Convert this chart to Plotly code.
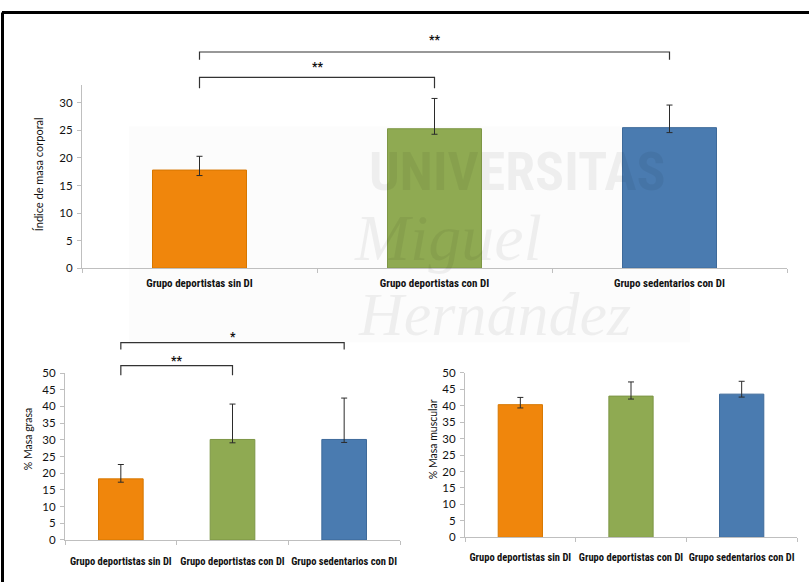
import plotly.graph_objects as go

# ---- data ---------------------------------------------------------------
groups = ["Grupo deportistas sin DI", "Grupo deportistas con DI", "Grupo sedentarios con DI"]
colors = ["#F0860C", "#8FAA52", "#4A7BB0"]
edge_colors = ["#D77700", "#7D9645", "#3E6A9A"]

imc_mean = [17.8, 25.3, 25.5]
imc_err_hi = [20.3, 30.8, 29.6]
imc_err_lo = [16.8, 24.3, 24.6]

grasa_mean = [18.3, 30.1, 30.1]
grasa_err_hi = [22.6, 40.7, 42.5]
grasa_err_lo = [17.3, 29.1, 29.2]

musc_mean = [40.3, 42.9, 43.5]
musc_err_hi = [42.5, 47.2, 47.4]
musc_err_lo = [39.3, 42.0, 42.6]

W, H = 809, 588


def px(x):
    return x / W


def py(y):
    return 1 - y / H


FONT = "Liberation Sans Narrow, Arial Narrow, Roboto Condensed, Roboto, sans-serif"
NUM_FONT = "Lato, Open Sans, sans-serif"
xs = list(range(len(groups)))
tick_labels = [f"<b>{g}</b>" for g in groups]

fig = go.Figure()


def add_bars(means, hi, lo, xa, ya):
    fig.add_trace(go.Bar(
        x=xs, y=means, width=0.40,
        marker=dict(color=colors, line=dict(color=edge_colors, width=1)),
        error_y=dict(type="data", symmetric=False,
                     array=[h - m for h, m in zip(hi, means)],
                     arrayminus=[m - l for m, l in zip(means, lo)],
                     color="#2b2b2b", thickness=1, width=3),
        xaxis=xa, yaxis=ya, showlegend=False, hoverinfo="skip"))


add_bars(imc_mean, imc_err_hi, imc_err_lo, "x", "y")
add_bars(grasa_mean, grasa_err_hi, grasa_err_lo, "x2", "y2")
add_bars(musc_mean, musc_err_hi, musc_err_lo, "x3", "y3")


def xaxis_cfg(x0, x1, anchor, size, standoff):
    return dict(domain=[px(x0), px(x1)], anchor=anchor, range=[-0.5, 2.5],
                tickvals=xs, ticktext=tick_labels, ticks="", showline=True,
                linecolor="#BFBFBF", linewidth=1, showgrid=False, zeroline=False,
                ticklabelstandoff=standoff,
                tickfont=dict(family=FONT, size=size, color="#111111"),
                minor=dict(tickvals=[-0.5, 0.5, 1.5, 2.5], ticks="outside",
                           ticklen=4, tickcolor="#BFBFBF", showgrid=False),
                fixedrange=True)


def yaxis_cfg(y0, y1, top, anchor):
    return dict(domain=[py(y0), py(y1)], anchor=anchor, range=[0, top], dtick=5,
                ticks="outside", ticklen=4, tickcolor="#BFBFBF", showline=True,
                linecolor="#BFBFBF", linewidth=1, showgrid=False, zeroline=False,
                ticklabelstandoff=2,
                tickfont=dict(family=NUM_FONT, size=11.5, color="#111111"),
                fixedrange=True)


fig.update_layout(
    width=W, height=H, margin=dict(l=0, r=0, t=0, b=0),
    paper_bgcolor="white", plot_bgcolor="rgba(0,0,0,0)",
    xaxis=xaxis_cfg(82, 787, "y", 11, 5),
    yaxis=yaxis_cfg(267, 80, 33.2, "x"),
    xaxis2=xaxis_cfg(65, 400, "y2", 10.5, 11),
    yaxis2=yaxis_cfg(545, 374.3, 50, "x2"),
    xaxis3=xaxis_cfg(465, 797, "y3", 10.5, 10),
    yaxis3=yaxis_cfg(542.3, 374, 50, "x3"),
)

annotations = []
shapes = []


def label(text, x, y, size, family=FONT, color="#111111", angle=0):
    annotations.append(dict(text=text, xref="paper", yref="paper", x=px(x), y=py(y),
                            xanchor="center", yanchor="middle", textangle=angle,
                            showarrow=False,
                            font=dict(family=family, size=size, color=color)))


# faint university watermark behind the top chart
shapes.append(dict(type="rect", xref="paper", yref="paper", x0=px(129), x1=px(690),
                   y0=py(343), y1=py(122), fillcolor="rgba(0,0,0,0.012)",
                   line=dict(width=0), layer="below"))
WM = "rgba(0,0,0,0.055)"
label("<b>UNIVERSITAS</b>", 517, 168, 54, color=WM)
label("<i>Miguel</i>", 448, 236, 66, family="Liberation Serif, serif", color=WM)
label("<i>Hernández</i>", 494, 314, 62, family="Liberation Serif, serif", color=WM)

# y-axis titles
label("Índice de masa corporal", 38, 171, 11, family=NUM_FONT, angle=-90)
label("% Masa grasa", 28, 442, 10.5, family=NUM_FONT, angle=-90)
label("% Masa muscular", 433, 442, 10.5, family=NUM_FONT, angle=-90)


# significance brackets
def bracket(xref, i0, i1, y_line, drop, star_y, stars):
    y_top = py(y_line)
    y_bot = py(y_line + drop)
    shapes.append(dict(type="path", xref=xref, yref="paper",
                       path=f"M {i0},{y_bot} L {i0},{y_top} L {i1},{y_top} L {i1},{y_bot}",
                       line=dict(color="#333333", width=1.2)))
    annotations.append(dict(text=f"<b>{stars}</b>", xref=xref, yref="paper",
                            x=(i0 + i1) / 2, y=py(star_y), xanchor="center",
                            yanchor="middle", showarrow=False,
                            font=dict(family=FONT, size=12, color="#111111")))


bracket("x", 0, 2, 46, 8, 34, "**")
bracket("x", 0, 1, 72, 11, 61, "**")
bracket("x2", 0, 2, 343.3, 7, 337, "*")
bracket("x2", 0, 1, 366.7, 10, 362, "**")

# outer frame (top and left edges)
shapes.append(dict(type="line", xref="paper", yref="paper", x0=px(2), x1=1,
                   y0=py(5.5), y1=py(5.5), line=dict(color="black", width=3)))
shapes.append(dict(type="line", xref="paper", yref="paper", x0=px(2.5), x1=px(2.5),
                   y0=0, y1=py(5.5), line=dict(color="black", width=3)))

fig.update_layout(annotations=annotations, shapes=shapes)

fig.write_html("out.html")
